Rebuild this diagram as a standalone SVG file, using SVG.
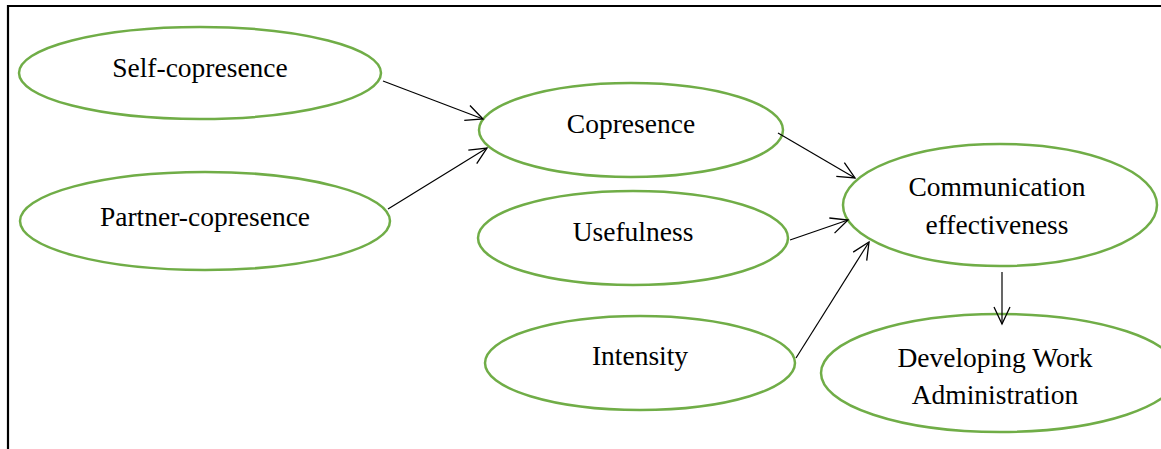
<svg xmlns="http://www.w3.org/2000/svg" width="1161" height="449" viewBox="0 0 1161 449">
<defs>
<style>
.node ellipse{fill:none;stroke:#70AD47;stroke-width:2.5}
.node text{font-family:"Liberation Serif","Times New Roman",serif;font-size:27.5px;fill:#000;text-anchor:middle}
.edge{stroke:#000;stroke-width:1.2;fill:none;marker-end:url(#arr)}
</style>
<marker id="arr" markerUnits="userSpaceOnUse" markerWidth="22" markerHeight="22" refX="18" refY="9" orient="auto">
<path d="M1,1 L18,9 L1,17" fill="none" stroke="#000" stroke-width="1.3"/>
</marker>
</defs>
<rect width="1161" height="449" fill="#fff"/>
<g id="frame" stroke="#000" stroke-width="2.2">
<line x1="7" y1="6" x2="1161" y2="6"/>
<line x1="8" y1="5" x2="8" y2="449"/>
</g>
<g id="self-copresence" class="node">
<ellipse cx="200" cy="73" rx="181" ry="46"/>
<text x="200" y="77">Self-copresence</text>
</g>
<g id="partner-copresence" class="node">
<ellipse cx="205" cy="221" rx="185" ry="49"/>
<text x="205" y="226">Partner-copresence</text>
</g>
<g id="copresence" class="node">
<ellipse cx="631" cy="130" rx="152" ry="47"/>
<text x="631" y="133">Copresence</text>
</g>
<g id="usefulness" class="node">
<ellipse cx="633" cy="238" rx="155" ry="47"/>
<text x="633" y="241">Usefulness</text>
</g>
<g id="intensity" class="node">
<ellipse cx="640" cy="363" rx="155" ry="47"/>
<text x="640" y="365">Intensity</text>
</g>
<g id="communication-effectiveness" class="node">
<ellipse cx="1000" cy="205" rx="157" ry="61"/>
<text x="997" y="196">Communication</text>
<text x="997" y="234">effectiveness</text>
</g>
<g id="developing-work-administration" class="node">
<ellipse cx="1000" cy="373" rx="179" ry="59"/>
<text x="995" y="367">Developing Work</text>
<text x="995" y="404">Administration</text>
</g>
<g id="connectors">
<line class="edge" x1="383" y1="81" x2="483" y2="119"/>
<line class="edge" x1="388" y1="209" x2="487" y2="148"/>
<line class="edge" x1="778" y1="133" x2="855" y2="178"/>
<line class="edge" x1="790" y1="240" x2="848" y2="220"/>
<line class="edge" x1="796" y1="358" x2="869" y2="242"/>
<line class="edge" x1="1002" y1="272" x2="1002" y2="324"/>
</g>
</svg>
